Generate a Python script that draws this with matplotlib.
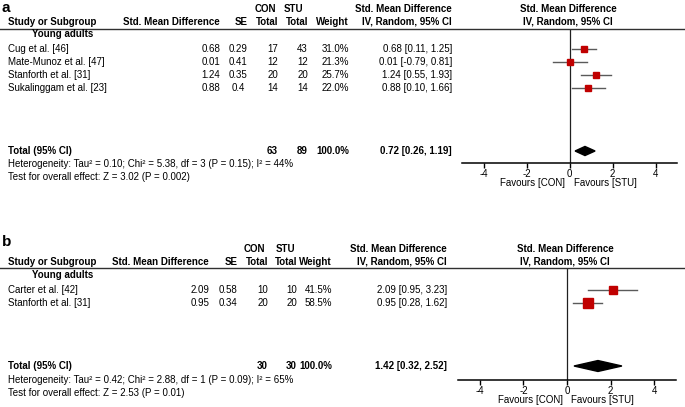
import matplotlib
matplotlib.use('Agg')
import matplotlib.pyplot as plt
from matplotlib.transforms import blended_transform_factory as blend

W, H = 685, 407
plt.rcParams['font.family'] = ['Liberation Sans', 'DejaVu Sans']
FS = 7.0
SQ_RED = '#c00000'
CI_GREY = '#5a5a5a'

# ---- panel a data ----
studies_a = ['Cug et al. [46]', 'Mate-Munoz et al. [47]', 'Stanforth et al. [31]', 'Sukalinggam et al. [23]']
smd_a = [0.68, 0.01, 1.24, 0.88]
se_a = ['0.29', '0.41', '0.35', '0.4']
con_a = [17, 12, 20, 14]
stu_a = [43, 12, 20, 14]
weight_a = [31.0, 21.3, 25.7, 22.0]
lo_a = [0.11, -0.79, 0.55, 0.10]
hi_a = [1.25, 0.81, 1.93, 1.66]
total_a = {'con': 63, 'stu': 89, 'smd': 0.72, 'lo': 0.26, 'hi': 1.19}
het_a = 'Heterogeneity: Tau² = 0.10; Chi² = 5.38, df = 3 (P = 0.15); I² = 44%'
test_a = 'Test for overall effect: Z = 3.02 (P = 0.002)'

# ---- panel b data ----
studies_b = ['Carter et al. [42]', 'Stanforth et al. [31]']
smd_b = [2.09, 0.95]
se_b = ['0.58', '0.34']
con_b = [10, 20]
stu_b = [10, 20]
weight_b = [41.5, 58.5]
lo_b = [0.95, 0.28]
hi_b = [3.23, 1.62]
total_b = {'con': 30, 'stu': 30, 'smd': 1.42, 'lo': 0.32, 'hi': 2.52}
het_b = 'Heterogeneity: Tau² = 0.42; Chi² = 2.88, df = 1 (P = 0.09); I² = 65%'
test_b = 'Test for overall effect: Z = 2.53 (P = 0.01)'

ticks = [-4, -2, 0, 2, 4]

fig = plt.figure(figsize=(W / 100, H / 100), dpi=100)


def fx(px):
    return px / W


def fy(px):
    return 1 - px / H


def draw_panel(letter, studies, smd, se, con, stu, weight, lo, hi, total, het, test, L):
    step = 13.0
    base = L['base']
    row = lambda px: (px - base) / step
    ax = fig.add_axes([fx(L['ax_l']), fy(L['ax_b']),
                       (L['ax_r'] - L['ax_l']) / W, (L['ax_b'] - L['ax_t']) / H])
    ax.set_xlim(-5, 5)
    ax.set_ylim(row(L['ax_b']), row(L['ax_t']))
    for s in ['top', 'left', 'right']:
        ax.spines[s].set_visible(False)
    ax.spines['bottom'].set_linewidth(1.1)
    ax.set_yticks([])
    ax.set_xticks(ticks)
    ax.set_xticklabels([str(t) for t in ticks], fontsize=FS)
    ax.tick_params(axis='x', direction='out', length=3.5, width=1, pad=0.5)
    ax.axvline(0, color='#202020', lw=0.9)
    ax.patch.set_alpha(0)

    tr = blend(fig.transFigure, ax.transData)
    top = row(L['ax_t'])
    ax.plot([0, 1], [top, top], transform=tr, color='#303030', lw=1.0, clip_on=False)

    # panel letter
    fig.text(fx(2), fy(L['letter']), letter, fontsize=11, fontweight='bold', va='center', ha='left')

    # headers
    h1, h2 = row(L['h1']), row(L['h2'])
    hk = dict(transform=tr, fontsize=FS, fontweight='bold', va='center')
    ax.text(fx(L['con_hdr']), h1, 'CON', ha='center', **hk)
    ax.text(fx(L['stu_hdr']), h1, 'STU', ha='center', **hk)
    ax.text(fx(L['ci']), h1, 'Std. Mean Difference', ha='right', **hk)
    ax.text(fx(L['fp_hdr']), h1, 'Std. Mean Difference', ha='center', **hk)
    ax.text(fx(8), h2, 'Study or Subgroup', ha='left', **hk)
    ax.text(fx(L['smd']), h2, 'Std. Mean Difference', ha='right', **hk)
    ax.text(fx(L['se'] + 10), h2, 'SE', ha='right', **hk)
    ax.text(fx(L['con']), h2, 'Total', ha='right', **hk)
    ax.text(fx(L['stu']), h2, 'Total', ha='right', **hk)
    ax.text(fx(L['wt']), h2, 'Weight', ha='right', **hk)
    ax.text(fx(L['ci']), h2, 'IV, Random, 95% CI', ha='right', **hk)
    ax.text(fx(L['fp_hdr']), h2, 'IV, Random, 95% CI', ha='center', **hk)

    ax.text(fx(32), -0.15, 'Young adults', ha='left', **hk)

    tk = dict(transform=tr, fontsize=FS, va='center')
    for i, name in enumerate(studies):
        r = i + 1
        ax.text(fx(8), r, name, ha='left', **tk)
        ax.text(fx(L['smd']), r, f'{smd[i]:.2f}', ha='right', **tk)
        ax.text(fx(L['se']), r, se[i], ha='center', **tk)
        ax.text(fx(L['con']), r, str(con[i]), ha='right', **tk)
        ax.text(fx(L['stu']), r, str(stu[i]), ha='right', **tk)
        ax.text(fx(L['wt']), r, f'{weight[i]:.1f}%', ha='right', **tk)
        ax.text(fx(L['ci']), r, f'{smd[i]:.2f} [{lo[i]:.2f}, {hi[i]:.2f}]', ha='right', **tk)
        ax.plot([lo[i], hi[i]], [r, r], color=CI_GREY, lw=1.0, zorder=3)
        ax.plot(smd[i], r, marker='s', ms=0.85 * weight[i] ** 0.5,
                color=SQ_RED, mec=SQ_RED, zorder=4)

    rt = row(L['total'])
    ax.text(fx(8), rt, 'Total (95% CI)', ha='left', **hk)
    ax.text(fx(L['con']), rt, str(total['con']), ha='right', **hk)
    ax.text(fx(L['stu']), rt, str(total['stu']), ha='right', **hk)
    ax.text(fx(L['wt']), rt, '100.0%', ha='right', **hk)
    ax.text(fx(L['ci']), rt, f"{total['smd']:.2f} [{total['lo']:.2f}, {total['hi']:.2f}]", ha='right', **hk)
    d = L['dia']
    ax.fill([total['lo'], total['smd'], total['hi'], total['smd']],
            [rt, rt - d, rt, rt + d], color='black', zorder=4)

    ax.text(fx(8), row(L['het']), het, ha='left', **tk)
    ax.text(fx(8), row(L['het']) + 1, test, ha='left', **tk)

    ftr = blend(ax.transData, fig.transFigure)
    ax.text(-0.2, fy(L['fav']), 'Favours [CON]', transform=ftr, ha='right', va='center', fontsize=FS)
    ax.text(0.2, fy(L['fav']), 'Favours [STU]', transform=ftr, ha='left', va='center', fontsize=FS)


layout_a = dict(base=36, ax_l=462, ax_r=677, ax_t=29, ax_b=163, letter=8, h1=9, h2=22,
                con_hdr=265, stu_hdr=294, smd=220, se=238, con=278, stu=308, wt=349,
                ci=452, fp_hdr=568, total=151, het=164, fav=183, dia=0.35)
layout_b = dict(base=277, ax_l=458, ax_r=676, ax_t=268, ax_b=380, letter=242, h1=249, h2=262,
                con_hdr=254, stu_hdr=285, smd=209, se=228, con=268, stu=297, wt=332,
                ci=447, fp_hdr=565, total=366, het=380, fav=400, dia=0.42)

draw_panel('a', studies_a, smd_a, se_a, con_a, stu_a, weight_a, lo_a, hi_a, total_a, het_a, test_a, layout_a)
draw_panel('b', studies_b, smd_b, se_b, con_b, stu_b, weight_b, lo_b, hi_b, total_b, het_b, test_b, layout_b)

fig.savefig('out.png', dpi=100)
